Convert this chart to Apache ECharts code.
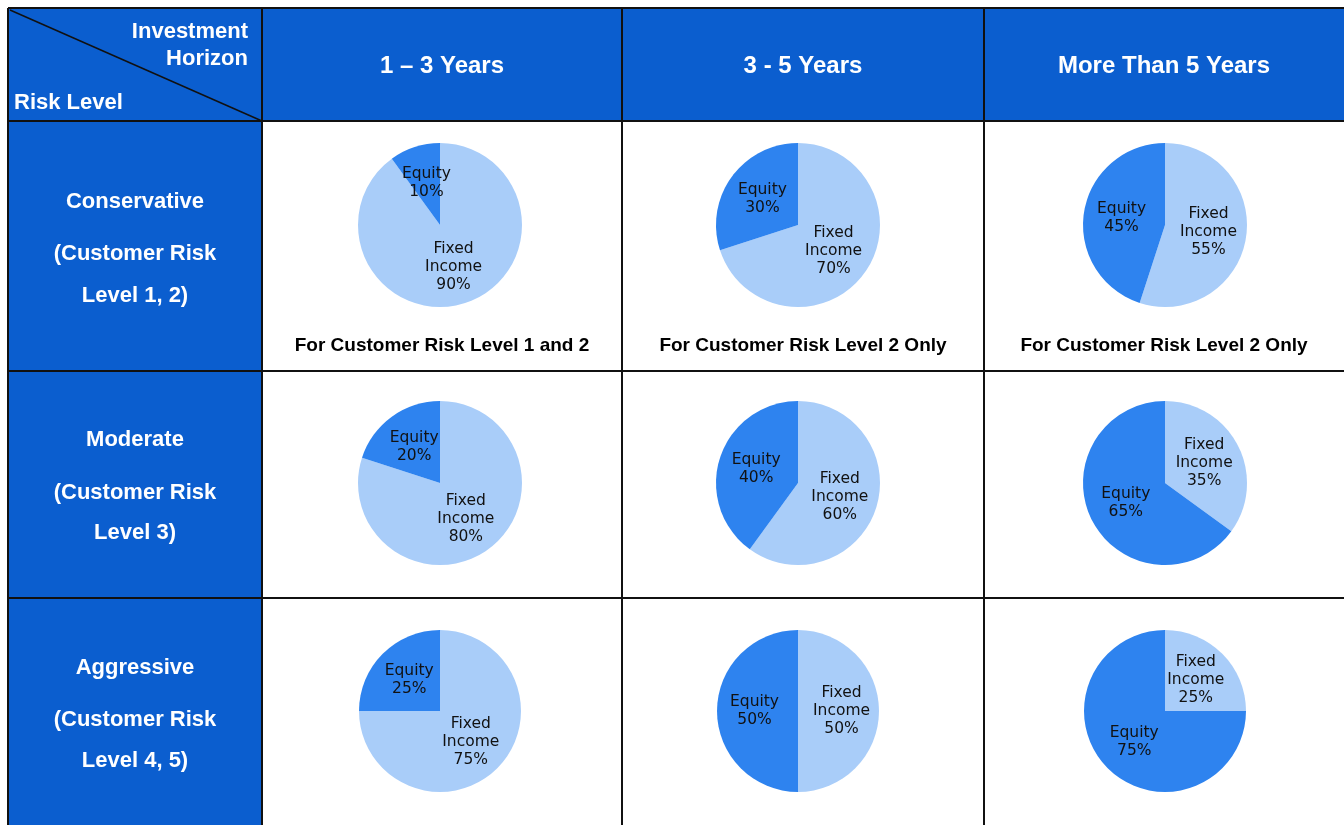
<!DOCTYPE html>
<html>
<head>
<meta charset="utf-8">
<script src="https://cdn.jsdelivr.net/npm/echarts@6/dist/echarts.min.js"></script>
<style>
html,body{margin:0;padding:0;background:#fff;}
#chart{width:1344px;height:825px;}
</style>
</head>
<body>
<div id="chart"></div>
<script>
// ---- data ----
const horizons = ['1 \u2013 3 Years', '3 - 5 Years', 'More Than 5 Years'];
const riskLevels = ['Conservative', 'Moderate', 'Aggressive'];
const riskSubtitles = [['(Customer Risk', 'Level 1, 2)'], ['(Customer Risk', 'Level 3)'], ['(Customer Risk', 'Level 4, 5)']];
const assetNames = ['Fixed\nIncome', 'Equity'];
const fixedIncome = [[90, 70, 55], [80, 60, 35], [75, 50, 25]];
const equity = [[10, 30, 45], [20, 40, 65], [25, 50, 75]];
const notes = ['For Customer Risk Level 1 and 2', 'For Customer Risk Level 2 Only', 'For Customer Risk Level 2 Only'];

// ---- layout ----
const colX = [8, 262, 622, 984, 1344];
const rowY = [8, 121, 371, 598, 825];
const BLUE = '#0b5ecf';
const LIGHT = '#a9cdf9';
const DARK = '#2e83ef';

const chart = echarts.init(document.getElementById('chart'), null, {renderer: 'canvas'});
const graphics = [];

// header backgrounds
graphics.push({type: 'rect', shape: {x: colX[0], y: rowY[0], width: colX[4] - colX[0], height: rowY[1] - rowY[0]}, style: {fill: BLUE}, z: 1});
graphics.push({type: 'rect', shape: {x: colX[0], y: rowY[1], width: colX[1] - colX[0], height: rowY[4] - rowY[1]}, style: {fill: BLUE}, z: 1});

// grid lines
const lineStyle = {stroke: '#111', lineWidth: 2};
for (let i = 0; i < colX.length - 1; i++) {
  graphics.push({type: 'line', shape: {x1: colX[i], y1: rowY[0], x2: colX[i], y2: rowY[4]}, style: lineStyle, z: 5});
}
for (let j = 0; j < rowY.length - 1; j++) {
  graphics.push({type: 'line', shape: {x1: colX[0], y1: rowY[j], x2: colX[4], y2: rowY[j]}, style: lineStyle, z: 5});
}
// diagonal
graphics.push({type: 'line', shape: {x1: colX[0] + 2, y1: rowY[0] + 2, x2: colX[1], y2: rowY[1]}, style: {stroke: '#111', lineWidth: 1.5}, z: 5});

const hdrFont = {fontFamily: 'Liberation Sans, Arial, sans-serif', fontWeight: 'bold', fill: '#fff'};
// corner texts
graphics.push({type: 'text', x: 248, y: 32, style: Object.assign({text: 'Investment', fontSize: 22, align: 'right', verticalAlign: 'middle'}, hdrFont), z: 6});
graphics.push({type: 'text', x: 248, y: 59, style: Object.assign({text: 'Horizon', fontSize: 22, align: 'right', verticalAlign: 'middle'}, hdrFont), z: 6});
graphics.push({type: 'text', x: 14, y: 103, style: Object.assign({text: 'Risk Level', fontSize: 22, align: 'left', verticalAlign: 'middle'}, hdrFont), z: 6});

// column headers
horizons.forEach((h, c) => {
  graphics.push({type: 'text', x: (colX[c + 1] + colX[c + 2]) / 2, y: 66,
    style: Object.assign({text: h, fontSize: 24, align: 'center', verticalAlign: 'middle'}, hdrFont), z: 6});
});

// row headers
const rowTextY = [[202, 254, 296], [440, 493, 533], [668, 720, 761]];
riskLevels.forEach((r, i) => {
  const lines = [r].concat(riskSubtitles[i]);
  lines.forEach((t, k) => {
    graphics.push({type: 'text', x: (colX[0] + colX[1]) / 2, y: rowTextY[i][k],
      style: Object.assign({text: t, fontSize: 22, align: 'center', verticalAlign: 'middle'}, hdrFont), z: 6});
  });
});

// notes under first row
notes.forEach((n, c) => {
  graphics.push({type: 'text', x: (colX[c + 1] + colX[c + 2]) / 2, y: 346,
    style: {text: n, fontSize: 19, fontWeight: 'bold', fontFamily: 'Liberation Sans, Arial, sans-serif', fill: '#000', align: 'center', verticalAlign: 'middle'}, z: 6});
});

// pies
const pieCenterY = [225, 483, 711];
const pieCenterX = [440, 798, 1165];
const series = [];
for (let r = 0; r < 3; r++) {
  for (let c = 0; c < 3; c++) {
    series.push({
      type: 'pie',
      center: [pieCenterX[c], pieCenterY[r]],
      radius: [0, r === 2 ? 81 : 82],
      startAngle: 90,
      clockwise: true,
      silent: true,
      animation: false,
      z: 3,
      label: {
        show: true, position: 'inside',
        formatter: p => p.name + '\n' + p.value + '%',
        color: '#111', fontSize: 15.5, lineHeight: 18,
        fontFamily: 'DejaVu Sans, sans-serif'
      },
      labelLine: {show: false},
      itemStyle: {borderWidth: 0},
      data: [
        {name: assetNames[0], value: fixedIncome[r][c], itemStyle: {color: LIGHT}},
        {name: assetNames[1], value: equity[r][c], itemStyle: {color: DARK}}
      ]
    });
  }
}

chart.setOption({
  backgroundColor: '#fff',
  animation: false,
  graphic: graphics,
  series: series
});
</script>
</body>
</html>
